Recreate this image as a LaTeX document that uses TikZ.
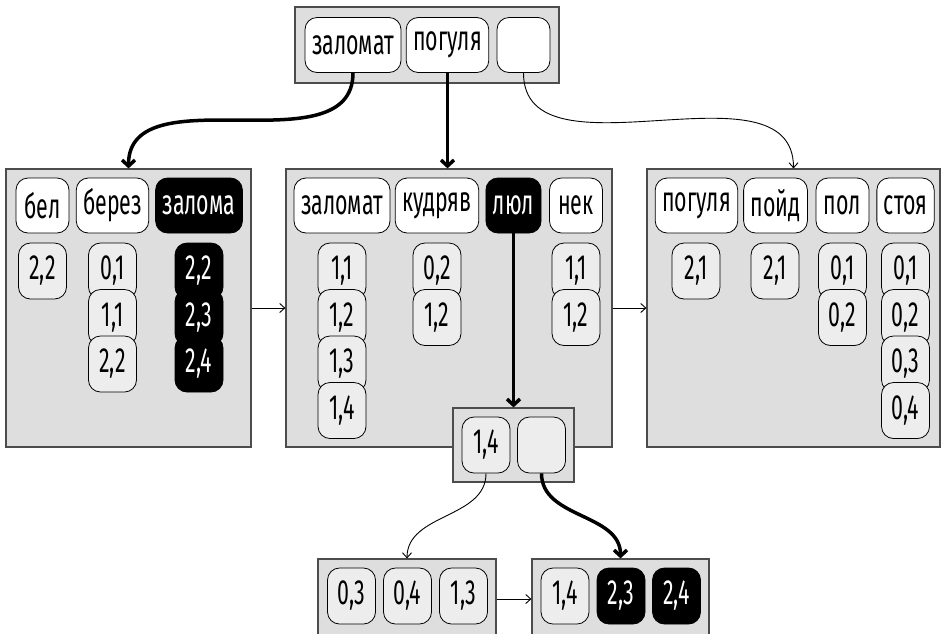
\documentclass[tikz,border=0pt]{standalone}
\usepackage{fontspec}
\setmainfont[FakeStretch=0.61]{Fira Sans}
\usetikzlibrary{arrows.meta}

\tikzset{
  panel/.style={draw=black!70, fill=black!13, line width=1.2pt, inner sep=0pt},
  word/.style={draw, fill=white, line width=0.8pt, rounded corners=12pt,
    minimum height=55pt, minimum width=53pt, inner xsep=7pt},
  wordsel/.style={word, fill=black, text=white},
  num/.style={draw, fill=black!7, line width=0.8pt, rounded corners=12pt,
    minimum width=48pt, minimum height=56pt, inner sep=0pt},
  numsel/.style={num, fill=black, text=white},
  thinarrow/.style={-{Straight Barb[length=5pt,width=9pt]}, line width=0.9pt},
  heavyarrow/.style={-{Straight Barb[length=6pt,width=13pt]}, line width=3.5pt},
}

\begin{document}
\begin{tikzpicture}[x=1pt, y=-1pt, font=\fontsize{35}{38}\selectfont]

\useasboundingbox (0,0) rectangle (941,633);
\clip (0,0) rectangle (941,633);

% ---- panels ----
\node[panel, minimum width=264pt, minimum height=76pt] (T) at (427,45) {};
\node[panel, minimum width=245pt, minimum height=278pt] (L) at (128.5,308) {};
\node[panel, minimum width=326pt, minimum height=278pt] (M) at (449,308) {};
\node[panel, minimum width=293pt, minimum height=278pt] (R) at (793.5,308) {};
\node[panel, minimum width=121pt, minimum height=74pt] (S) at (513.5,445) {};
\node[panel, minimum width=178pt, minimum height=80pt] (BL) at (407,599) {};
\node[panel, minimum width=177pt, minimum height=80pt] (BR) at (620.5,599) {};

% ---- top panel ----
\node[word] (t1) at (353,45) {заломат};
\node[word] (t2) at (447.5,45) {погуля};
\node[word] (t3) at (523.5,45) {};

% ---- left panel ----
\node[word] (l1) at (42.5,205.5) {бел};
\node[word] (l2) at (112.5,205.5) {берез};
\node[wordsel] (l3) at (199,205.5) {залома};
\node[num] (l1-0) at (42.5,271) {2,2};
\foreach \t [count=\i from 0] in {{0,1},{1,1},{2,2}}
  \node[num] (l2-\i) at (112.5,271+46.5*\i) {\t};
\foreach \t [count=\i from 0] in {{2,2},{2,3},{2,4}}
  \node[numsel] (l3-\i) at (199,271+46.5*\i) {\t};

% ---- middle panel ----
\node[word] (m1) at (342,205.5) {заломат};
\node[word] (m2) at (437,205.5) {кудряв};
\node[wordsel] (m3) at (513.5,205.5) {люл};
\node[word] (m4) at (576,205.5) {нек};
\foreach \t [count=\i from 0] in {{1,1},{1,2},{1,3},{1,4}}
  \node[num] (m1-\i) at (342,271+46.5*\i) {\t};
\foreach \t [count=\i from 0] in {{0,2},{1,2}}
  \node[num] (m2-\i) at (437,271+46.5*\i) {\t};
\foreach \t [count=\i from 0] in {{1,1},{1,2}}
  \node[num] (m4-\i) at (576,271+46.5*\i) {\t};

% ---- right panel ----
\node[word] (r1) at (696.5,205.5) {погуля};
\node[word] (r2) at (775.5,205.5) {пойд};
\node[word] (r3) at (842.5,205.5) {пол};
\node[word] (r4) at (905.5,205.5) {стоя};
\node[num] (r1-0) at (696,271) {2,1};
\node[num] (r2-0) at (775,271) {2,1};
\foreach \t [count=\i from 0] in {{0,1},{0,2}}
  \node[num] (r3-\i) at (842.5,271+46.5*\i) {\t};
\foreach \t [count=\i from 0] in {{0,1},{0,2},{0,3},{0,4}}
  \node[num] (r4-\i) at (905.5,271+46.5*\i) {\t};

% ---- sub panel ----
\node[num] (s1) at (486,445) {1,4};
\node[num] (s2) at (541.5,445) {};

% ---- bottom panels ----
\node[num] (b1) at (351.5,596) {0,3};
\node[num] (b2) at (407.5,596) {0,4};
\node[num] (b3) at (463.5,596) {1,3};
\node[num] (c1) at (565,596) {1,4};
\node[numsel] (c2) at (621,596) {2,3};
\node[numsel] (c3) at (676.5,596) {2,4};

% ---- links ----
\draw[heavyarrow] (t1.south) to[out=-90, in=90] (L.north);
\draw[heavyarrow] (t2.south) -- (t2.south |- M.north);
\draw[thinarrow] (t3.south) to[out=-90, in=90] (R.north);
\draw[thinarrow] (L.east) -- (M.west);
\draw[thinarrow] (M.east) -- (R.west);
\draw[heavyarrow] (m3.south) -- (S.north);
\draw[thinarrow] (s1.south) to[out=-90, in=90] (BL.north);
\draw[heavyarrow] (s2.south) to[out=-90, in=90] (BR.north);
\draw[thinarrow] (BL.east) -- (BR.west);

\end{tikzpicture}
\end{document}
